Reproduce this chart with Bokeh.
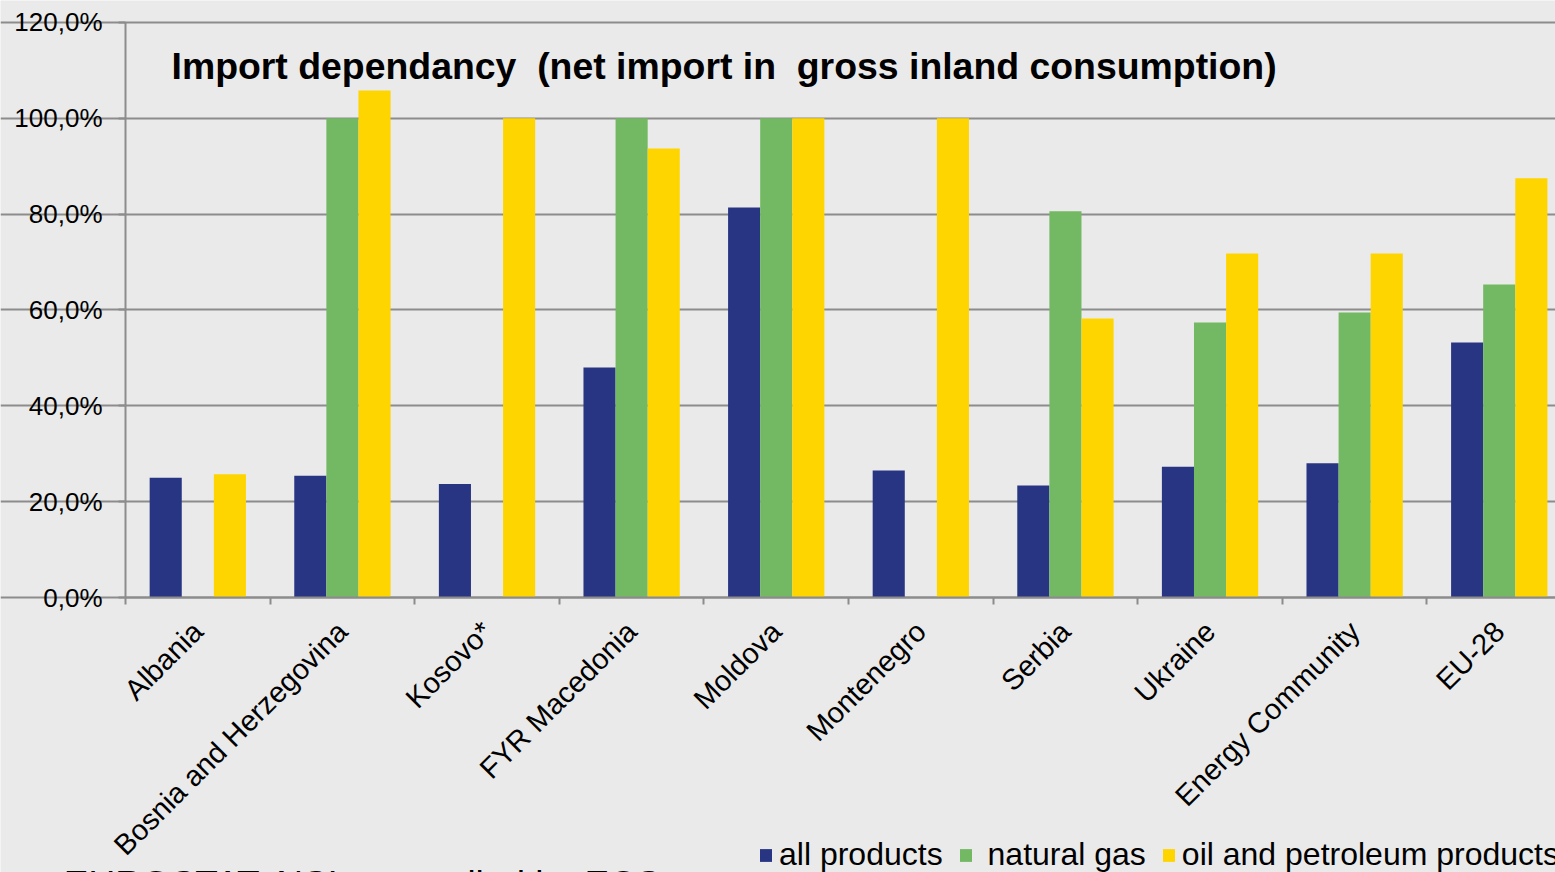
from math import pi
from bokeh.plotting import figure
from bokeh.models import Range1d, FixedTicker, Label, Legend, LegendItem, ColumnDataSource
from bokeh.embed import file_html
from bokeh.resources import INLINE

categories = ["Albania", "Bosnia and Herzegovina", "Kosovo*", "FYR Macedonia", "Moldova",
              "Montenegro", "Serbia", "Ukraine", "Energy Community", "EU-28"]
all_products = [25.0, 25.4, 23.7, 48.0, 81.4, 26.5, 23.4, 27.3, 28.0, 53.2]
natural_gas = [0.0, 100.0, 0.0, 100.0, 100.0, 0.0, 80.6, 57.4, 59.5, 65.3]
oil_products = [25.7, 105.8, 100.0, 93.7, 100.0, 100.0, 58.2, 71.8, 71.8, 87.5]
series_names = ["all products", "\u00a0natural gas", "oil and petroleum products"]
y_ticks = [0, 20, 40, 60, 80, 100, 120]
y_tick_labels = ["0,0%", "20,0%", "40,0%", "60,0%", "80,0%", "100,0%", "120,0%"]
title_text = "Import dependancy\u00a0 (net import in\u00a0 gross inland consumption)"
source_text = "Source: EUROSTAT, NSIs, compiled by ECS"

BG = "#eaeaea"
GRID = "#8c8c8c"
COLORS = ["#283582", "#73b963", "#ffd500"]
FONT = "Liberation Sans"

n_cat = len(categories)
centers = [i + 0.5 for i in range(n_cat)]
bw = 0.222
src = ColumnDataSource(dict(
    x0=[c - bw for c in centers], x1=centers, x2=[c + bw for c in centers],
    a=all_products, g=natural_gas, o=oil_products))

# the frame covers the whole canvas; axes are pinned at 0 so nothing outside gets clipped
p = figure(width=1555, height=872, output_backend="svg", toolbar_location=None,
           x_range=Range1d(-0.8645, 9.889), y_range=Range1d(-57.39, 124.59),
           min_border=0, min_border_left=0, min_border_right=0,
           min_border_top=0, min_border_bottom=0)
p.background_fill_color = BG
p.border_fill_color = BG
p.outline_line_color = None

r1 = p.vbar(x="x0", top="a", width=bw, source=src, fill_color=COLORS[0], line_color=None)
r2 = p.vbar(x="x1", top="g", width=bw, source=src, fill_color=COLORS[1], line_color=None)
r3 = p.vbar(x="x2", top="o", width=bw, source=src, fill_color=COLORS[2], line_color=None)

# grid
p.xgrid.grid_line_color = None
p.ygrid.grid_line_color = GRID
p.ygrid.grid_line_width = 2
p.ygrid.ticker = FixedTicker(ticks=y_ticks)
p.ygrid.bounds = (0, n_cat)

# y axis pinned at x = 0
p.yaxis.fixed_location = 0
p.yaxis.ticker = FixedTicker(ticks=y_ticks)
p.yaxis.bounds = (0, 120)
p.yaxis.major_label_overrides = {t: l for t, l in zip(y_ticks, y_tick_labels)}
p.yaxis.axis_line_color = GRID
p.yaxis.axis_line_width = 2
p.yaxis.major_tick_line_color = GRID
p.yaxis.major_tick_line_width = 2
p.yaxis.major_tick_out = 7
p.yaxis.major_tick_in = 0
p.yaxis.minor_tick_line_color = None
p.yaxis.major_label_standoff = 16
p.yaxis.major_label_text_font = FONT
p.yaxis.major_label_text_font_size = "26px"
p.yaxis.major_label_text_color = "#000000"

# x axis pinned at 0 %
p.xaxis.fixed_location = 0
p.xaxis.bounds = (0, n_cat)
p.xaxis.ticker = FixedTicker(ticks=centers, minor_ticks=list(range(n_cat + 1)))
p.xaxis.major_label_overrides = {c: n for c, n in zip(centers, categories)}
p.xaxis.major_label_orientation = pi / 4
p.xaxis.axis_line_color = GRID
p.xaxis.axis_line_width = 2
p.xaxis.major_tick_line_color = None
p.xaxis.major_tick_out = 0
p.xaxis.major_tick_in = 0
p.xaxis.minor_tick_line_color = GRID
p.xaxis.minor_tick_line_width = 2
p.xaxis.minor_tick_out = 7
p.xaxis.minor_tick_in = 0
p.xaxis.major_label_standoff = 22
p.xaxis.major_label_text_font = FONT
p.xaxis.major_label_text_font_size = "29px"
p.xaxis.major_label_text_color = "#000000"

# title inside plot
p.add_layout(Label(x=0.318, y=111.0, text=title_text, text_font=FONT, text_font_size="37.4px",
                   text_font_style="bold", text_color="#000000", text_baseline="alphabetic"))

# source note (clipped at bottom edge, as in the original slide)
p.add_layout(Label(x=-1.38, y=-59.8, text=source_text, text_font=FONT, text_font_size="37px",
                   text_color="#000000", text_baseline="alphabetic"))

legend = Legend(items=[LegendItem(label=series_names[0], renderers=[r1]),
                       LegendItem(label=series_names[1], renderers=[r2]),
                       LegendItem(label=series_names[2], renderers=[r3])],
                orientation="horizontal", location=(758, -1),
                glyph_width=15, glyph_height=16, label_height=20, label_standoff=6,
                spacing=15, padding=0, margin=0,
                label_text_font=FONT, label_text_font_size="32px", label_text_color="#000000",
                border_line_color=None, background_fill_alpha=0)
p.add_layout(legend, "center")

open("out.html", "w").write(file_html(p, INLINE))
